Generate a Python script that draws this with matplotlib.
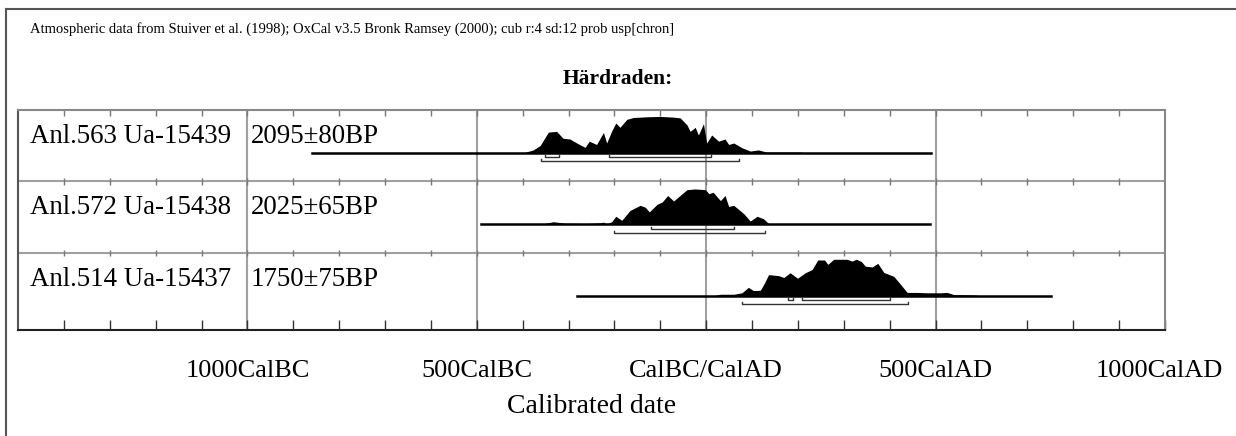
"""
OxCal calibration plot: Härdraden, three radiocarbon dates.
"""

import matplotlib

matplotlib.use("Agg")
import matplotlib.pyplot as plt
from matplotlib.lines import Line2D
from matplotlib.transforms import ScaledTranslation

SUBTITLE = ("Atmospheric data from Stuiver et al. (1998); OxCal v3.5 Bronk Ramsey (2000); "
            "cub r:4 sd:12 prob usp[chron]")
TITLE = "Härdraden:"
XLABEL = "Calibrated date"

SAMPLE_NAMES = ["Anl.563 Ua-15439", "Anl.572 Ua-15438", "Anl.514 Ua-15437"]
BP_DATES = ["2095±80BP", "2025±65BP", "1750±75BP"]

# calendar year (BC negative) / relative probability
YEARS_563 = [-399, -377, -362, -344, -326, -312, -297, -282, -264, -255, -239, -224, -217,
             -206, -197, -188, -173, -159, -130, -100, -71, -57, -42, -35, -24, -17, -6,
             1, 12, 27, 41, 49, 60, 78, 96, 114, 132, 205, 220]
PROB_563 = [0.0, 0.08, 0.2, 0.57, 0.59, 0.4, 0.38, 0.27, 0.15, 0.32, 0.23, 0.56, 0.27,
            0.6, 0.82, 0.7, 0.92, 0.97, 0.99, 1.0, 0.98, 0.96, 0.77, 0.59, 0.7, 0.49, 0.8,
            0.27, 0.49, 0.32, 0.38, 0.23, 0.27, 0.14, 0.05, 0.08, 0.02, 0.02, 0.0]

YEARS_572 = [-362, -333, -308, -261, -231, -224, -217, -206, -197, -184, -166, -144, -133,
             -124, -107, -96, -84, -71, -42, -24, -2, 6, 15, 31, 41, 49, 60, 82, 96, 111,
             125, 136, 220, 227]
PROB_572 = [0.0, 0.07, 0.03, 0.02, 0.04, 0.06, 0.01, 0.07, 0.22, 0.11, 0.38, 0.52, 0.47,
            0.34, 0.55, 0.61, 0.79, 0.64, 0.95, 0.97, 0.95, 0.84, 0.88, 0.65, 0.79, 0.49,
            0.52, 0.29, 0.09, 0.22, 0.15, 0.02, 0.02, 0.0]

YEARS_514 = [16, 31, 60, 78, 92, 103, 118, 127, 136, 158, 169, 183, 199, 216, 231, 243,
             258, 265, 278, 307, 318, 327, 338, 347, 362, 374, 387, 409, 423, 438, 460,
             482, 511, 525, 540, 584, 598]
PROB_514 = [0.0, 0.04, 0.04, 0.08, 0.23, 0.14, 0.15, 0.35, 0.58, 0.55, 0.5, 0.63, 0.48,
            0.63, 0.72, 0.98, 0.98, 0.86, 1.0, 1.0, 0.95, 1.0, 0.94, 0.81, 0.79, 0.89,
            0.64, 0.53, 0.32, 0.09, 0.09, 0.08, 0.08, 0.09, 0.03, 0.02, 0.0]

CURVES = [(YEARS_563, PROB_563), (YEARS_572, PROB_572), (YEARS_514, PROB_514)]
LINE_RANGE = [(-860, 491), (-490, 488), (-281, 751)]
SIGMA1 = [[(-352, -320), (-211, 10)], [(-120, 60)], [(178, 190), (209, 400)]]
SIGMA2 = [[(-361, 71)], [(-200, 129)], [(79, 440)]]

X_RANGE = (-1500, 1000)
MAJOR_TICKS = [-1000, -500, 0, 500, 1000]
TICK_LABELS = ["1000CalBC", "500CalBC", "CalBC/CalAD", "500CalAD", "1000CalAD"]
MINOR_TICKS = list(range(-1400, 1000, 100))

W, H = 1236, 436
GRID = "#a0a0a0"


def fx(px):
    return px / W


def fy(py):
    return 1 - py / H


def draw_row(ax, idx):
    top = 3 - idx
    base = top - 1 + 0.40
    years, prob = CURVES[idx]
    ax.fill_between(years, base, [base + p * 0.51 for p in prob], color="black", lw=0, zorder=3)
    ax.plot(LINE_RANGE[idx], [base, base], color="black", lw=1.8, zorder=3)

    for ranges, off in ((SIGMA1[idx], 0.062), (SIGMA2[idx], 0.117)):
        y = base - off
        for a, b in ranges:
            ax.plot([a, a, b, b], [y + 0.03, y, y, y + 0.03], color="#333333", lw=1, zorder=3)

    ax.text(-1474, top - 0.37, SAMPLE_NAMES[idx], fontsize=19.4, va="center", ha="left")
    ax.text(-993, top - 0.37, BP_DATES[idx], fontsize=19.4, va="center", ha="left")

    # ticks hanging from the top of each row
    if idx == 0:
        ax.vlines(MINOR_TICKS, top - 0.08, top, color="#777777", lw=1, zorder=2)
    else:
        ax.vlines(MINOR_TICKS, top - 0.045, top + 0.045, color="#777777", lw=1, zorder=2)


def main():
    plt.rcParams["font.family"] = ["Liberation Serif", "DejaVu Serif"]
    fig = plt.figure(figsize=(W / 100, H / 100), dpi=100)

    # outer frame (only top and left edges are visible)
    fig.add_artist(Line2D([fx(6), fx(6)], [fy(9), 0], color="#555555", lw=1.5))
    fig.add_artist(Line2D([fx(6), 1], [fy(9), fy(9)], color="#555555", lw=1.5))

    fig.text(fx(30), fy(29), SUBTITLE, fontsize=10.5, va="center", ha="left")
    fig.text(0.5, fy(79), TITLE, fontsize=15.5, fontweight="bold", va="center", ha="center")

    ax = fig.add_axes([fx(18), fy(330), fx(1165) - fx(18), (330 - 110) / H])
    ax.set_xlim(*X_RANGE)
    ax.set_ylim(-0.08, 3)

    ax.vlines(MAJOR_TICKS[:-1], -0.08, 3, color=GRID, lw=1.5, zorder=1)
    ax.hlines([1, 2], X_RANGE[0], X_RANGE[1], color=GRID, lw=1.5, zorder=1)

    for idx in range(3):
        draw_row(ax, idx)

    ax.set_yticks([])
    ax.set_xticks(MAJOR_TICKS)
    ax.set_xticklabels(TICK_LABELS, fontsize=19)
    ax.set_xticks(MINOR_TICKS, minor=True)
    ax.tick_params(axis="x", which="both", direction="in", length=7, width=1,
                   color="#333333", pad=21.5)
    last = ax.get_xticklabels()[-1]
    last.set_transform(last.get_transform() + ScaledTranslation(-0.06, 0, fig.dpi_scale_trans))
    ax.set_xlabel(XLABEL, fontsize=20, labelpad=9)

    for side in ("top", "right"):
        ax.spines[side].set_color("#888888")
    ax.spines["left"].set_color("#555555")
    ax.spines["bottom"].set_color("#222222")
    for sp in ax.spines.values():
        sp.set_linewidth(1.5)

    fig.savefig("out.png", dpi=100)
    plt.close(fig)


if __name__ == "__main__":
    main()
